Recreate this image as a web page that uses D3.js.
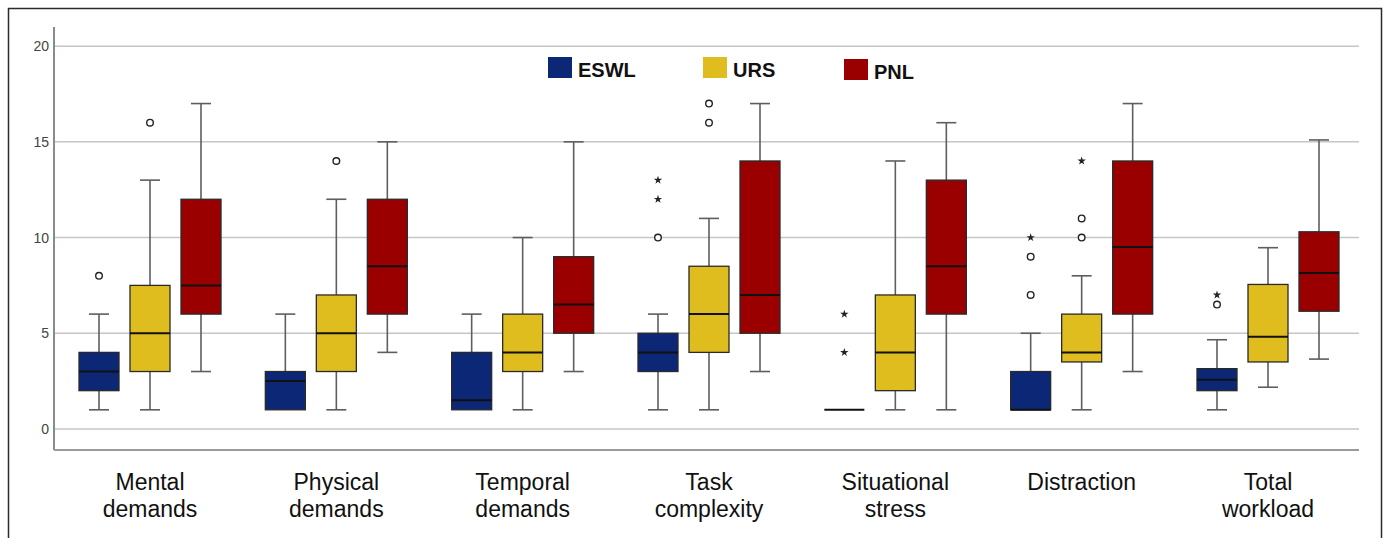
<!DOCTYPE html>
<html>
<head>
<meta charset="utf-8">
<script src="https://cdn.jsdelivr.net/npm/d3@7"></script>
<style>
  html, body { margin: 0; padding: 0; background: #fff; }
  svg { display: block; }
</style>
</head>
<body>
<svg id="chart" width="1384" height="538"></svg>
<script>
// ---- data ----
const categories = ["Mental demands", "Physical demands", "Temporal demands", "Task complexity", "Situational stress", "Distraction", "Total workload"];
const categoryLines = [["Mental", "demands"], ["Physical", "demands"], ["Temporal", "demands"], ["Task", "complexity"], ["Situational", "stress"], ["Distraction"], ["Total", "workload"]];
const seriesNames = ["ESWL", "URS", "PNL"];
const seriesColors = ["#0c2776", "#e0bd1f", "#9a0000"];
// [min, q1, median, q3, max] per category
const eswlStats = [[1, 2, 3, 4, 6], [1, 1, 2.5, 3, 6], [1, 1, 1.5, 4, 6], [1, 3, 4, 5, 6], [1, 1, 1, 1, 1], [1, 1, 1, 3, 5], [1, 2, 2.57, 3.15, 4.66]];
const ursStats  = [[1, 3, 5, 7.5, 13], [1, 3, 5, 7, 12], [1, 3, 4, 6, 10], [1, 4, 6, 8.5, 11], [1, 2, 4, 7, 14], [1, 3.5, 4, 6, 8], [2.18, 3.5, 4.82, 7.55, 9.47]];
const pnlStats  = [[3, 6, 7.5, 12, 17], [4, 6, 8.5, 12, 15], [3, 5, 6.5, 9, 15], [3, 5, 7, 14, 17], [1, 6, 8.5, 13, 16], [3, 6, 9.5, 14, 17], [3.65, 6.15, 8.15, 10.3, 15.1]];
// outliers (circles) and extremes (stars)
const eswlCircles = [[8], [], [], [10], [], [7, 9], [6.5]];
const eswlStars   = [[], [], [], [12, 13], [4, 6], [10], [7]];
const ursCircles  = [[16], [14], [], [16, 17], [], [10, 11], []];
const ursStars    = [[], [], [], [], [], [14], []];
const pnlCircles  = [[], [], [], [], [], [], []];
const pnlStars    = [[], [], [], [], [], [], []];
const yTicks = [0, 5, 10, 15, 20];

const stats = [eswlStats, ursStats, pnlStats];
const circles = [eswlCircles, ursCircles, pnlCircles];
const stars = [eswlStars, ursStars, pnlStars];

// ---- layout ----
const svg = d3.select("#chart");
const axisLeft = 54, axisRight = 1359, axisTop = 27, axisBottom = 450;

const y = d3.scaleLinear().domain([-1.1, 21]).range([axisBottom, axisTop]);
const x = d3.scalePoint().domain(categories).range([150, 1268]);
const sub = d3.scalePoint().domain(seriesNames).range([-51, 51]);
const boxW = 40, capW = 20;

// outer frame
svg.append("rect").attr("x", 8.5).attr("y", 8.5).attr("width", 1373).attr("height", 560)
  .attr("fill", "none").attr("stroke", "#2b2b2b").attr("stroke-width", 1.5);

// gridlines
svg.append("g").selectAll("line").data(yTicks).join("line")
  .attr("x1", axisLeft).attr("x2", axisRight)
  .attr("y1", d => y(d)).attr("y2", d => y(d))
  .attr("stroke", "#c6c6c6").attr("stroke-width", 1.5);

// axis frame lines
svg.append("line").attr("x1", axisLeft).attr("x2", axisLeft).attr("y1", axisTop).attr("y2", axisBottom)
  .attr("stroke", "#8a8a8a").attr("stroke-width", 2);
svg.append("line").attr("x1", axisLeft).attr("x2", axisRight).attr("y1", axisBottom).attr("y2", axisBottom)
  .attr("stroke", "#9a9a9a").attr("stroke-width", 2);

// y tick labels via axis
const yAxis = d3.axisLeft(y).tickValues(yTicks).tickSize(0).tickPadding(5);
const gy = svg.append("g").attr("transform", `translate(${axisLeft},0)`).call(yAxis);
gy.select(".domain").remove();
gy.selectAll("text").attr("font-family", "Liberation Sans, Arial, sans-serif")
  .attr("font-size", 14).attr("fill", "#444");

// x category labels
const xg = svg.append("g");
categories.forEach((c, i) => {
  const t = xg.append("text").attr("x", x(c)).attr("y", 490)
    .attr("text-anchor", "middle")
    .attr("font-family", "Liberation Sans, Arial, sans-serif")
    .attr("font-size", 23).attr("fill", "#111");
  categoryLines[i].forEach((line, j) => {
    t.append("tspan").attr("x", x(c)).attr("dy", j === 0 ? 0 : 27).text(line);
  });
});

// boxes
const starSym = d3.symbol().type(d3.symbolStar).size(22);
seriesNames.forEach((s, si) => {
  const g = svg.append("g");
  categories.forEach((c, ci) => {
    const [mn, q1, md, q3, mx] = stats[si][ci];
    const cx = x(c) + sub(s);
    // whiskers
    g.append("line").attr("x1", cx).attr("x2", cx).attr("y1", y(mx)).attr("y2", y(q3))
      .attr("stroke", "#5e5e5e").attr("stroke-width", 1.6);
    g.append("line").attr("x1", cx).attr("x2", cx).attr("y1", y(q1)).attr("y2", y(mn))
      .attr("stroke", "#5e5e5e").attr("stroke-width", 1.6);
    if (mx > q3) g.append("line").attr("x1", cx - capW / 2).attr("x2", cx + capW / 2).attr("y1", y(mx)).attr("y2", y(mx))
      .attr("stroke", "#5e5e5e").attr("stroke-width", 1.6);
    if (mn < q1) g.append("line").attr("x1", cx - capW / 2).attr("x2", cx + capW / 2).attr("y1", y(mn)).attr("y2", y(mn))
      .attr("stroke", "#5e5e5e").attr("stroke-width", 1.6);
    // box
    g.append("rect").attr("x", cx - boxW / 2).attr("width", boxW)
      .attr("y", y(q3)).attr("height", Math.max(0, y(q1) - y(q3)))
      .attr("fill", seriesColors[si]).attr("stroke", "#2a2a2a").attr("stroke-width", 1.3);
    // median
    g.append("line").attr("x1", cx - boxW / 2).attr("x2", cx + boxW / 2).attr("y1", y(md)).attr("y2", y(md))
      .attr("stroke", "#111").attr("stroke-width", 2);
    // outliers
    circles[si][ci].forEach(v => {
      g.append("circle").attr("cx", cx).attr("cy", y(v)).attr("r", 3.3)
        .attr("fill", "#fff").attr("stroke", "#222").attr("stroke-width", 1.4);
    });
    stars[si][ci].forEach(v => {
      g.append("path").attr("d", starSym).attr("transform", `translate(${cx},${y(v)})`)
        .attr("fill", "#222");
    });
  });
});

// legend
const legendX = [548, 703, 844];
const lg = svg.append("g");
seriesNames.forEach((s, i) => {
  lg.append("rect").attr("x", legendX[i]).attr("y", 57 + (i === 2 ? 2 : 0)).attr("width", 24).attr("height", 21)
    .attr("fill", seriesColors[i]);
  lg.append("text").attr("x", legendX[i] + 30).attr("y", 77 + (i === 2 ? 2 : 0))
    .attr("font-family", "Liberation Sans, Arial, sans-serif").attr("font-weight", "bold")
    .attr("font-size", 20).attr("fill", "#111").text(s);
});
</script>
</body>
</html>
